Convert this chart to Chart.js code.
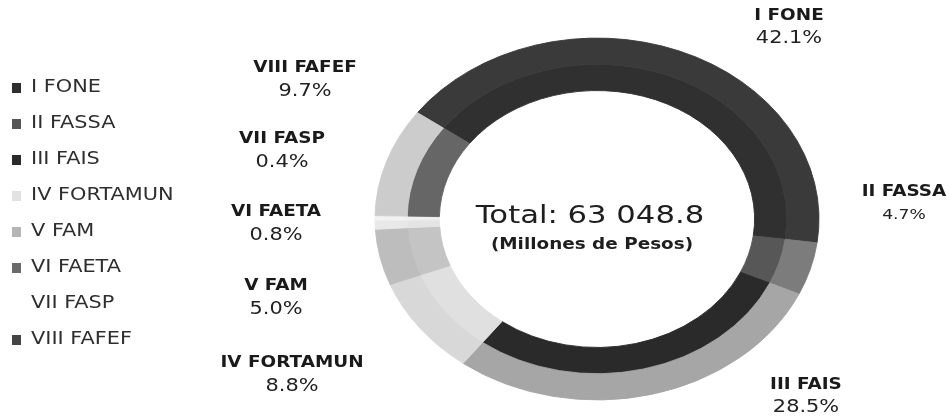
<!DOCTYPE html>
<html>
<head>
<meta charset="utf-8">
<script src="https://cdn.jsdelivr.net/npm/chart.js@4.4.1/dist/chart.umd.min.js"></script>
<style>
  html, body { margin: 0; padding: 0; background: #ffffff; }
  #wrap { width: 950px; height: 420px; }
</style>
</head>
<body>
<div id="wrap"><canvas id="c" width="950" height="420"></canvas></div>
<script>
// ---- data ----
const categories = ['I FONE', 'II FASSA', 'III FAIS', 'IV FORTAMUN', 'V FAM', 'VI FAETA', 'VII FASP', 'VIII FAFEF'];
const shares = [42.1, 4.7, 28.5, 8.8, 5.0, 0.8, 0.4, 9.7];
const totalLabel = 'Total: 63 048.8';
const unitLabel = '(Millones de Pesos)';

// ---- styles ----
const outerColors = ['#3a3a3a', '#7c7c7c', '#a6a6a6', '#d8d8d8', '#bdbdbd', '#e8e8e8', '#f2f2f2', '#cccccc'];
const innerColors = ['#303030', '#575757', '#2a2a2a', '#e0e0e0', '#c4c4c4', '#e4e4e4', '#efefef', '#666666'];
const legendColors = ['#2e2e2e', '#555555', '#2a2a2a', '#e2e2e2', '#b5b5b5', '#6a6a6a', '#ffffff', '#444444'];

// ---- layout ----
const SX = 1.227;       // horizontal stretch of the scanned original
const SY = 0.815;       // vertical squash of the ring
const FONT = '"DejaVu Sans", sans-serif';
const labelPos = [      // [x, y] centre of category label; percent sits below
  [789, 16], [904, 192], [806, 385], [292, 363],
  [276, 286], [276, 212], [282, 139], [305, 68]
];
const pctGap = [23, 23, 23, 24, 24, 24, 24, 24];
const pctSize = [17, 14, 17, 17, 17, 17, 17, 17];
const legendX = 31, legendY0 = 88, legendStep = 36;

function sText(ctx, txt, x, y, align, font, color) {
  ctx.save();
  ctx.translate(x, y);
  ctx.scale(SX, 1);
  ctx.font = font;
  ctx.fillStyle = color;
  ctx.textAlign = align;
  ctx.textBaseline = 'middle';
  ctx.fillText(txt, 0, 0);
  ctx.restore();
}

const ellipsePlugin = {
  id: 'ellipse',
  beforeDatasetsDraw(chart) {
    const arc = chart.getDatasetMeta(0).data[0];
    const ctx = chart.ctx;
    ctx.save();
    ctx.translate(arc.x, arc.y);
    ctx.scale(1, SY);
    ctx.translate(-arc.x, -arc.y);
  },
  afterDatasetsDraw(chart) {
    chart.ctx.restore();
  }
};

const textPlugin = {
  id: 'texts',
  afterDraw(chart) {
    const ctx = chart.ctx;
    const arc = chart.getDatasetMeta(0).data[0];
    // centre texts
    sText(ctx, totalLabel, arc.x - 7, arc.y - 3, 'center', '25px ' + FONT, '#1e1e1e');
    sText(ctx, unitLabel, arc.x - 5, arc.y + 26, 'center', 'bold 15px ' + FONT, '#1e1e1e');
    // data labels
    categories.forEach((cat, i) => {
      const [x, y] = labelPos[i];
      sText(ctx, cat, x, y, 'center', 'bold 15px ' + FONT, '#1a1a1a');
      sText(ctx, shares[i].toFixed(1) + '%', x, y + pctGap[i], 'center', pctSize[i] + 'px ' + FONT, '#222222');
    });
    // legend
    categories.forEach((cat, i) => {
      const y = legendY0 + i * legendStep;
      ctx.save();
      ctx.fillStyle = legendColors[i];
      ctx.fillRect(12, y - 5, 9, 10);
      ctx.restore();
      sText(ctx, cat, legendX, y, 'left', '17px ' + FONT, '#2e2e2e');
    });
  }
};

new Chart(document.getElementById('c'), {
  type: 'doughnut',
  data: {
    labels: categories,
    datasets: [
      { data: shares, backgroundColor: outerColors, borderColor: outerColors, borderWidth: 1, radius: 222, cutout: '71%' },
      { data: shares, backgroundColor: innerColors, borderColor: innerColors, borderWidth: 1, radius: 222, cutout: '71%' }
    ]
  },
  options: {
    responsive: false,
    animation: false,
    rotation: -54,
    circumference: 360,
    cutout: '71%',
    radius: 222,
    layout: { padding: { left: 244, right: 0, top: 18, bottom: 0 } },
    plugins: {
      legend: { display: false },
      tooltip: { enabled: false }
    }
  },
  plugins: [ellipsePlugin, textPlugin]
});
</script>
</body>
</html>
